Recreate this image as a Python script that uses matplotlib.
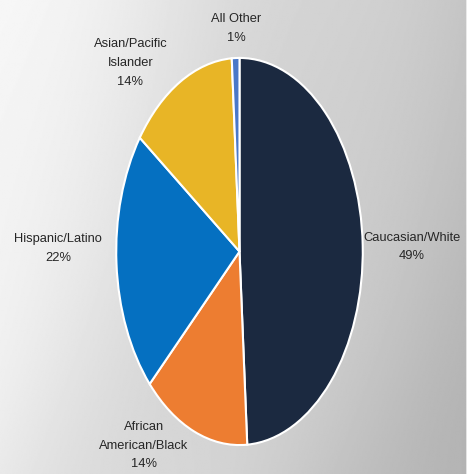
import numpy as np
import matplotlib.pyplot as plt

# share of each group, clockwise from 12 o'clock
groups = ['Caucasian/White', 'African\nAmerican/Black', 'Hispanic/Latino',
          'Asian/Pacific\nIslander', 'All Other']
shares = [49, 14, 22, 14, 1]
colors = ['#1b2940', '#ed7d31', '#0570c1', '#e8b526', '#4a78c8']

# where each label sits, in figure fractions (x, y)
label_pos = [(0.874, 0.479), (0.305, 0.06), (0.123, 0.476),
             (0.277, 0.867), (0.502, 0.94)]

W, H = 471, 474
fig = plt.figure(figsize=(W / 100, H / 100), dpi=100)

# soft grey backdrop, lighter toward the upper left
bg = fig.add_axes([0, 0, 1, 1])
xx, yy = np.meshgrid(np.linspace(0, 1, 300), np.linspace(0, 1, 300))
shade = (247 - 52 * xx - 14 * yy) / 255
shade += 0.012 * np.sin(9 * (xx + 0.35 * yy ** 2))
shade[:, -3:] = 1.0
bg.imshow(shade, cmap='gray', vmin=0, vmax=1, extent=[0, 1, 0, 1],
          aspect='auto', origin='upper', interpolation='bilinear')
bg.set_axis_off()

# the pie is stretched vertically into an ellipse
ax = fig.add_axes([115 / W, 27 / H, 249 / W, 391 / H])
ax.pie(shares, colors=colors, startangle=90, counterclock=False,
       wedgeprops=dict(edgecolor='white', linewidth=1.5))
ax.set_aspect('auto')
ax.set_xlim(-1.01, 1.01)
ax.set_ylim(-1.01, 1.01)
ax.set_axis_off()

font = ['Liberation Sans', 'DejaVu Sans']
for name, val, (x, y) in zip(groups, shares, label_pos):
    fig.text(x, y, f'{name}\n{val}%', ha='center', va='center',
             fontsize=9.3, family=font, color='#262626', linespacing=1.75)

fig.savefig('out.png', dpi=100)
